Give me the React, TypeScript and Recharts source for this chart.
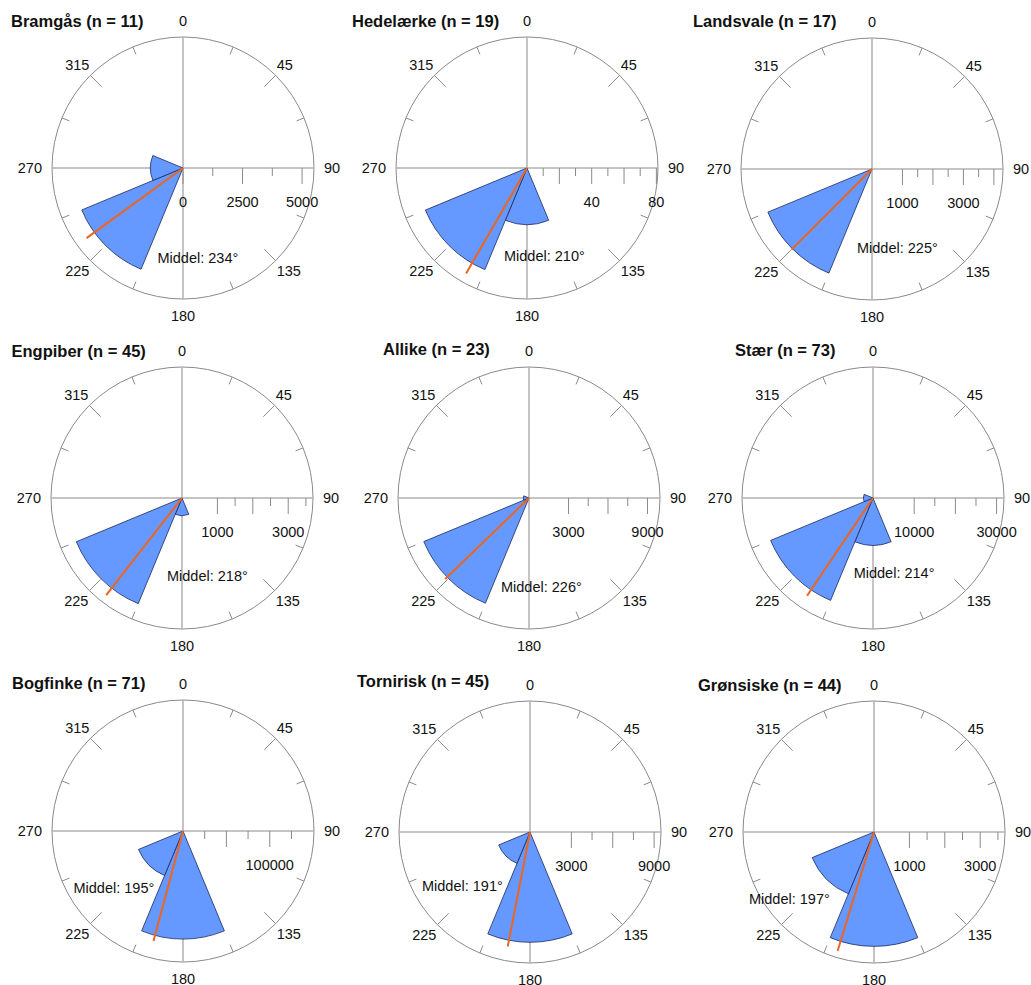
import React from 'react';
import {
  RadialBarChart,
  RadialBar,
  RadarChart,
  PolarAngleAxis,
  PolarRadiusAxis,
  PolarGrid,
} from 'recharts';

// Eight 45° direction sectors, clockwise from north
const directions = ['N', 'NE', 'E', 'SE', 'S', 'SW', 'W', 'NW'];

const speciesNames = [
  'Bramgås', 'Hedelærke', 'Landsvale',
  'Engpiber', 'Allike', 'Stær',
  'Bogfinke', 'Tornirisk', 'Grønsiske',
];
const sampleSizes = [11, 19, 17, 45, 23, 73, 71, 45, 44];

// Number of migrating birds per direction sector (N, NE, E, SE, S, SW, W, NW)
const bramgas = [0, 0, 0, 0, 0, 4600, 1370, 0];
const hedelaerke = [0, 0, 0, 0, 35, 68, 0, 0];
const landsvale = [0, 0, 0, 0, 0, 3700, 0, 0];
const engpiber = [0, 0, 0, 0, 500, 3230, 0, 0];
const allike = [0, 0, 0, 0, 0, 8650, 430, 0];
const staer = [0, 0, 0, 0, 11500, 26900, 2330, 0];
const bogfinke = [0, 0, 0, 0, 124600, 55500, 0, 0];
const tornirisk = [0, 0, 0, 0, 8000, 2460, 0, 0];
const groensiske = [0, 0, 0, 0, 3230, 1890, 0, 0];
const sectorValues = [
  bramgas, hedelaerke, landsvale,
  engpiber, allike, staer,
  bogfinke, tornirisk, groensiske,
];

// Mean direction (degrees) and mean resultant length (0..1)
const meanDirections = [234, 210, 225, 218, 226, 214, 195, 191, 197];
const meanResultants = [0.91, 0.93, 0.87, 0.94, 0.89, 0.9, 0.87, 0.89, 0.95];

// Radial scale of each rose
const radiusMax = [5500, 80.5, 4300, 3700, 9950, 31800, 151000, 9500, 3700];
const radiusTicks = [
  [0, 1250, 2500, 3750, 5000],
  [10, 20, 30, 40, 50, 60, 70, 80],
  [1000, 1500, 2000, 2500, 3000, 3500, 4000],
  [1000, 1500, 2000, 2500, 3000, 3500],
  [3000, 4500, 6000, 7500, 9000],
  [10000, 15000, 20000, 25000, 30000],
  [25000, 50000, 75000, 100000, 125000],
  [3000, 4500, 6000, 7500, 9000],
  [1000, 1500, 2000, 2500, 3000, 3500],
];
const radiusMajorTicks = [
  [0, 2500, 5000],
  [20, 40, 60, 80],
  [1000, 2000, 3000, 4000],
  [1000, 2000, 3000],
  [3000, 6000, 9000],
  [10000, 20000, 30000],
  [50000, 100000],
  [3000, 6000, 9000],
  [1000, 2000, 3000],
];
const radiusTickLabels = [
  [0, 2500, 5000],
  [40, 80],
  [1000, 3000],
  [1000, 3000],
  [3000, 9000],
  [10000, 30000],
  [100000],
  [3000, 9000],
  [1000, 3000],
];

// Compass rim: a tick every 22.5°, labels every 45°
const rimDegrees = [
  0, 22.5, 45, 67.5, 90, 112.5, 135, 157.5,
  180, 202.5, 225, 247.5, 270, 292.5, 315, 337.5,
];

// Page layout
const PAGE_W = 1031;
const PAGE_H = 985;
const CHART_W = 400;
const CHART_H = 370;
const R = 131;
const RIM_TICK_GAP = 8;
const panelCenters = [
  [182.5, 168.3], [527, 168.3], [872, 169],
  [182, 497.7], [528.5, 497.7], [872.7, 497.5],
  [182.5, 831.3], [530, 831.5], [874, 831.8],
];
const titlePositions = [
  [11, 27], [352, 27], [693, 27],
  [11.5, 357], [383, 355], [735, 356],
  [12, 689], [357, 686.5], [698, 690.5],
];
const meanLabelOffsets = [
  [-25, 95], [-23, 92.5], [-15, 84],
  [-15, 83], [-27.5, 94.6], [-19, 80.6],
  [-109, 61.7], [-108, 59.5], [-125, 72],
];

const FONT = '"Liberation Sans", Arial, Helvetica, sans-serif';
const WEDGE_FILL = '#6699ff';
const WEDGE_STROKE = '#1c2a5e';
const MEAN_COLOR = '#ec6520';
const CIRCLE_COLOR = '#8a8a8a';
const CROSS_COLOR = '#b0b0b0';
const TICK_COLOR = '#8a8a8a';
const TEXT_COLOR = '#111';
const LABEL_SIZE = 14.5;

// Rim tick pointing inwards plus the compass label outside the circle
const renderRimTick = (props: any) => {
  const { payload } = props;
  const deg = Number(payload.value);
  const a = (payload.coordinate * Math.PI) / 180;
  const ux = Math.cos(a);
  const uy = -Math.sin(a);
  // point on the circle (the axis places ticks RIM_TICK_GAP outside it)
  const x = props.x - ux * RIM_TICK_GAP;
  const y = props.y - uy * RIM_TICK_GAP;
  const isMajor = deg % 45 === 0;
  const isCardinal = deg % 90 === 0;
  const len = isMajor ? 16 : 8;

  let label = null;
  if (isMajor) {
    let lx = x;
    let ly = y;
    let anchor: 'start' | 'middle' | 'end' = 'middle';
    if (deg === 0) {
      ly = y - 11;
    } else if (deg === 180) {
      ly = y + 21.5;
    } else if (deg === 90) {
      lx = x + 10;
      ly = y + 5;
      anchor = 'start';
    } else if (deg === 270) {
      lx = x - 10;
      ly = y + 5;
      anchor = 'end';
    } else {
      lx = x + (ux > 0 ? 1 : -1);
      ly = y + (uy < 0 ? -10.8 : 10.8) + 5;
      anchor = ux > 0 ? 'start' : 'end';
    }
    label = (
      <text x={lx} y={ly} textAnchor={anchor} fontFamily={FONT} fontSize={LABEL_SIZE} fill={TEXT_COLOR}>
        {deg}
      </text>
    );
  }

  return (
    <g>
      {!isCardinal && (
        <line x1={x} y1={y} x2={x - ux * len} y2={y - uy * len} stroke={TICK_COLOR} strokeWidth={1} />
      )}
      {label}
    </g>
  );
};

// Radial scale ticks hanging below the east axis
const makeRadiusTick = (major: number[], labels: number[]) => (props: any) => {
  const { x, y, payload } = props;
  const v = payload.value;
  const len = major.includes(v) ? 16 : 8;
  return (
    <g>
      <line x1={x} y1={y} x2={x} y2={y + len} stroke={TICK_COLOR} strokeWidth={1} />
      {labels.includes(v) && (
        <text x={x} y={y + 39} textAnchor="middle" fontFamily={FONT} fontSize={LABEL_SIZE} fill={TEXT_COLOR}>
          {v}
        </text>
      )}
    </g>
  );
};

const rimData = rimDegrees.map((deg) => ({ deg }));

function RosePanel({ index }: { index: number }) {
  const [gx, gy] = panelCenters[index];
  const cx = CHART_W / 2;
  const cy = CHART_H / 2;
  const data = directions.map((dir, i) => ({ dir, value: sectorValues[index][i] }));
  const mean = meanDirections[index];
  const zeroMargin = { top: 0, right: 0, bottom: 0, left: 0 };
  const boxStyle: React.CSSProperties = {
    position: 'absolute',
    left: gx - cx,
    top: gy - cy,
    width: CHART_W,
    height: CHART_H,
  };

  return (
    <>
      {/* compass circle, rim ticks and direction labels */}
      <div style={boxStyle}>
        <RadarChart
          width={CHART_W}
          height={CHART_H}
          data={rimData}
          cx={cx}
          cy={cy}
          outerRadius={R}
          startAngle={90}
          endAngle={-270}
          margin={zeroMargin}
        >
          <PolarAngleAxis
            dataKey="deg"
            type="category"
            tickLine={false}
            tickSize={RIM_TICK_GAP}
            tick={renderRimTick}
            axisLine={{ stroke: CIRCLE_COLOR, strokeWidth: 1 }}
            axisLineType="circle"
          />
        </RadarChart>
      </div>
      {/* axes cross, radial scale, sectors and mean direction */}
      <div style={boxStyle}>
        <RadialBarChart
          width={CHART_W}
          height={CHART_H}
          data={data}
          cx={cx}
          cy={cy}
          innerRadius={0}
          outerRadius={R}
          startAngle={67.5}
          endAngle={-292.5}
          layout="centric"
          barCategoryGap={0}
          barGap={0}
          margin={zeroMargin}
        >
          <PolarGrid
            gridType="circle"
            polarAngles={[0, 90, 180, 270]}
            polarRadius={[0]}
            stroke={CROSS_COLOR}
            strokeWidth={1.5}
          />
          <PolarAngleAxis type="category" dataKey="dir" tick={false} tickLine={false} axisLine={false} />
          <PolarRadiusAxis
            type="number"
            domain={[0, radiusMax[index]]}
            allowDataOverflow
            angle={0}
            ticks={radiusTicks[index]}
            tick={makeRadiusTick(radiusMajorTicks[index], radiusTickLabels[index])}
            axisLine={false}
            tickLine={false}
          />
          <RadialBar
            dataKey="value"
            fill={WEDGE_FILL}
            stroke={WEDGE_STROKE}
            strokeWidth={0.8}
            isAnimationActive={false}
          />
          <PolarRadiusAxis
            radiusAxisId="mean"
            type="number"
            domain={[0, 1]}
            allowDataOverflow
            angle={90 - mean}
            ticks={[0, meanResultants[index]]}
            tick={false}
            tickLine={false}
            axisLine={{ stroke: MEAN_COLOR, strokeWidth: 2 }}
          />
        </RadialBarChart>
      </div>
    </>
  );
}

export default function App() {
  return (
    <div
      style={{
        position: 'absolute',
        left: 0,
        top: 0,
        width: PAGE_W,
        height: PAGE_H,
        overflow: 'hidden',
        background: '#fff',
      }}
    >
      {speciesNames.map((_, i) => (
        <RosePanel key={i} index={i} />
      ))}
      <svg
        width={PAGE_W}
        height={PAGE_H}
        style={{ position: 'absolute', left: 0, top: 0, pointerEvents: 'none' }}
      >
        {speciesNames.map((name, i) => (
          <text
            key={`t${i}`}
            x={titlePositions[i][0]}
            y={titlePositions[i][1]}
            fontFamily={FONT}
            fontWeight="bold"
            fontSize={16.5}
            fill={TEXT_COLOR}
          >
            {`${name} (n = ${sampleSizes[i]})`}
          </text>
        ))}
        {speciesNames.map((_, i) => (
          <text
            key={`m${i}`}
            x={panelCenters[i][0] + meanLabelOffsets[i][0]}
            y={panelCenters[i][1] + meanLabelOffsets[i][1]}
            fontFamily={FONT}
            fontSize={LABEL_SIZE}
            fill={TEXT_COLOR}
          >
            {`Middel: ${meanDirections[i]}°`}
          </text>
        ))}
      </svg>
    </div>
  );
}
